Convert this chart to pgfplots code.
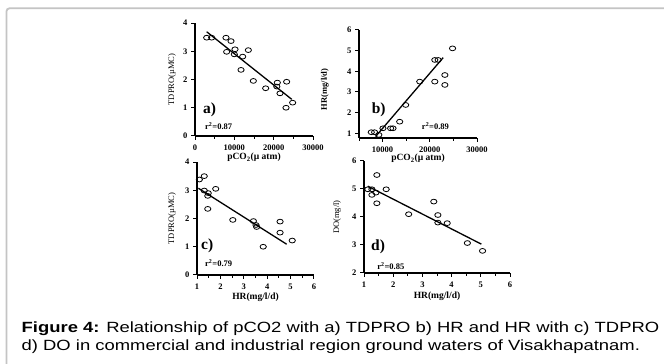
\documentclass[border=0pt]{standalone}
\usepackage{fontspec}
\usepackage{graphicx}
\setmainfont{Liberation Serif}
\newfontfamily\capfont{Liberation Sans}
\usepackage{pgfplots}
\usepackage{pgfplotstable}
\pgfplotsset{compat=1.18}
\definecolor{framegray}{HTML}{C4C4C4}
\pgfplotsset{
  panel/.style={
    scale only axis, anchor=south west, clip=false,
    axis lines=left,
    axis line style={-, line width=1.3pt, black},
    tick style={line width=1pt, black},
    tick align=outside,
    major tick length=4pt, minor tick length=3pt,
    tick label style={font=\fontsize{8.5}{8.5}\selectfont\bfseries},
    xticklabel style={yshift=-1.5pt},
    xlabel style={font=\fontsize{9.5}{10}\selectfont\bfseries, anchor=center},
    ylabel style={font=\fontsize{8.5}{9}\selectfont, anchor=center},
    scaled ticks=false,
    /pgf/number format/assume math mode=true,
    /pgf/number format/1000 sep={},
  },
  pts/.style={only marks, mark=o, mark size=2.4pt, mark options={line width=0.8pt, xscale=1.3, black}},
  fit/.style={black, line width=1.3pt},
}
\tikzset{
  rsq/.style={anchor=base west, font=\fontsize{8.5}{9}\selectfont\bfseries, inner sep=0pt},
  lett/.style={anchor=base west, font=\fontsize{15.5}{15.5}\selectfont\bfseries, inner sep=0pt},
}
\pgfplotstableread{
x y
2970 3.48
4240 3.48
7880 3.48
9150 3.36
8050 2.98
10170 3.07
10000 2.89
12120 2.81
13560 3.04
11700 2.34
14830 1.95
17970 1.69
20930 1.89
20800 1.75
23300 1.92
21610 1.51
23140 1.00
24830 1.18
}\dataA
\pgfplotstableread{
x y
7600 1.05
8300 1.05
9200 0.92
10070 1.24
11700 1.24
12200 1.24
13620 1.56
14890 2.37
17870 3.50
21060 3.50
21060 4.55
21770 4.55
23190 3.82
23190 3.34
24820 5.11
}\dataB
\pgfplotstableread{
x y
1.10 3.38
1.31 3.50
1.31 2.99
1.48 2.90
1.46 2.80
1.80 3.05
1.46 2.34
2.53 1.95
3.41 1.91
3.52 1.77
3.55 1.70
3.83 1.00
4.55 1.89
4.55 1.50
5.07 1.22
}\dataC
\pgfplotstableread{
x y
1.13 4.99
1.27 4.99
1.27 4.79
1.44 5.50
1.41 4.87
1.44 4.49
1.76 4.99
2.53 4.10
3.39 4.55
3.53 4.07
3.53 3.80
3.85 3.78
4.54 3.07
5.06 2.79
}\dataD
\begin{document}
\begin{tikzpicture}
\useasboundingbox (0,0) rectangle (664pt,364pt);
\fill[white] (0,0) rectangle (664pt,364pt);
\draw[framegray, line width=1.8pt, rounded corners=3pt] (6.5pt,0pt) -- (6.5pt,355.7pt) -- (664pt,355.7pt);

% a)
\begin{axis}[panel, at={(195pt,228pt)}, width=118pt, height=113pt,
  xmin=0, xmax=30000, ymin=0, ymax=4,
  xtick={0,10000,20000,30000}, minor xtick={5000,15000,25000}, ytick={0,1,2,3,4},
  xlabel={pCO\textsubscript{2}(µ atm)}, ylabel={TDPRO(µMC)},
  xlabel style={at={(axis description cs:0.5,-0.19)}},
  ylabel style={at={(axis description cs:-0.195,0.5)}}]
\addplot[pts] table {\dataA};
\addplot[fit] coordinates {(2970,3.69) (24580,1.30)};
\node[rsq] at (axis cs:2540,0.23) {r\textsuperscript{2}=0.87};
\node[lett] at (axis cs:2030,0.81) {a)};
\end{axis}

% b)
\begin{axis}[panel, at={(359pt,226pt)}, width=118pt, height=108pt,
  xmin=5000, xmax=30000, ymin=0.77, ymax=6,
  xtick={10000,20000,30000}, minor xtick={5000,15000,25000}, ytick={1,2,3,4,5,6},
  xlabel={pCO\textsubscript{2}(µ atm)}, ylabel={\bfseries HR(mg/l/d)},
  xlabel style={at={(axis description cs:0.5,-0.19)}},
  ylabel style={at={(axis description cs:-0.29,0.45)}}]
\addplot[pts] table {\dataB};
\addplot[fit] coordinates {(8510,0.84) (22830,4.66)};
\node[rsq] at (axis cs:18300,1.18) {r\textsuperscript{2}=0.89};
\node[lett] at (axis cs:7660,1.98) {b)};
\end{axis}

% c)
\begin{axis}[panel, at={(197pt,89pt)}, width=117pt, height=113pt,
  xmin=1, xmax=6, ymin=0, ymax=4,
  xtick={1,2,3,4,5,6}, minor xtick={1.5,2.5,3.5,4.5,5.5}, ytick={0,1,2,3,4},
  xlabel={HR(mg/l/d)}, ylabel={TDPRO(µMC)},
  xlabel style={at={(axis description cs:0.5,-0.197)}},
  ylabel style={at={(axis description cs:-0.214,0.5)}}]
\addplot[pts] table {\dataC};
\addplot[fit] coordinates {(1.06,3.07) (4.83,1.09)};
\node[rsq] at (axis cs:1.34,0.30) {r\textsuperscript{2}=0.79};
\node[lett] at (axis cs:1.17,0.89) {c)};
\end{axis}

% d)
\begin{axis}[panel, at={(364pt,91pt)}, width=146pt, height=112pt,
  xmin=1, xmax=6, ymin=2, ymax=6,
  xtick={1,2,3,4,5,6}, minor xtick={1.5,2.5,3.5,4.5,5.5}, ytick={2,3,4,5,6},
  xlabel={HR(mg/l/d)}, ylabel={DO(mg/l)},
  xlabel style={at={(axis description cs:0.5,-0.212)}},
  ylabel style={at={(axis description cs:-0.185,0.5)}}]
\addplot[pts] table {\dataD};
\addplot[fit] coordinates {(1.13,5.10) (5.02,3.03)};
\node[rsq] at (axis cs:1.45,2.135) {r\textsuperscript{2}=0.85};
\node[lett] at (axis cs:1.24,2.79) {d)};
\end{axis}

\node[anchor=base west, inner sep=0pt, font=\capfont\fontsize{14.8}{17}\selectfont] at (21.5pt,31pt)
  {\scalebox{1.245}[1]{\textbf{Figure 4:} Relationship of pCO2 with a) TDPRO b) HR and HR with c) TDPRO}};
\node[anchor=base west, inner sep=0pt, font=\capfont\fontsize{14.8}{17}\selectfont] at (21.5pt,13.5pt)
  {\scalebox{1.245}[1]{d) DO in commercial and industrial region ground waters of Visakhapatnam.}};
\end{tikzpicture}
\end{document}
